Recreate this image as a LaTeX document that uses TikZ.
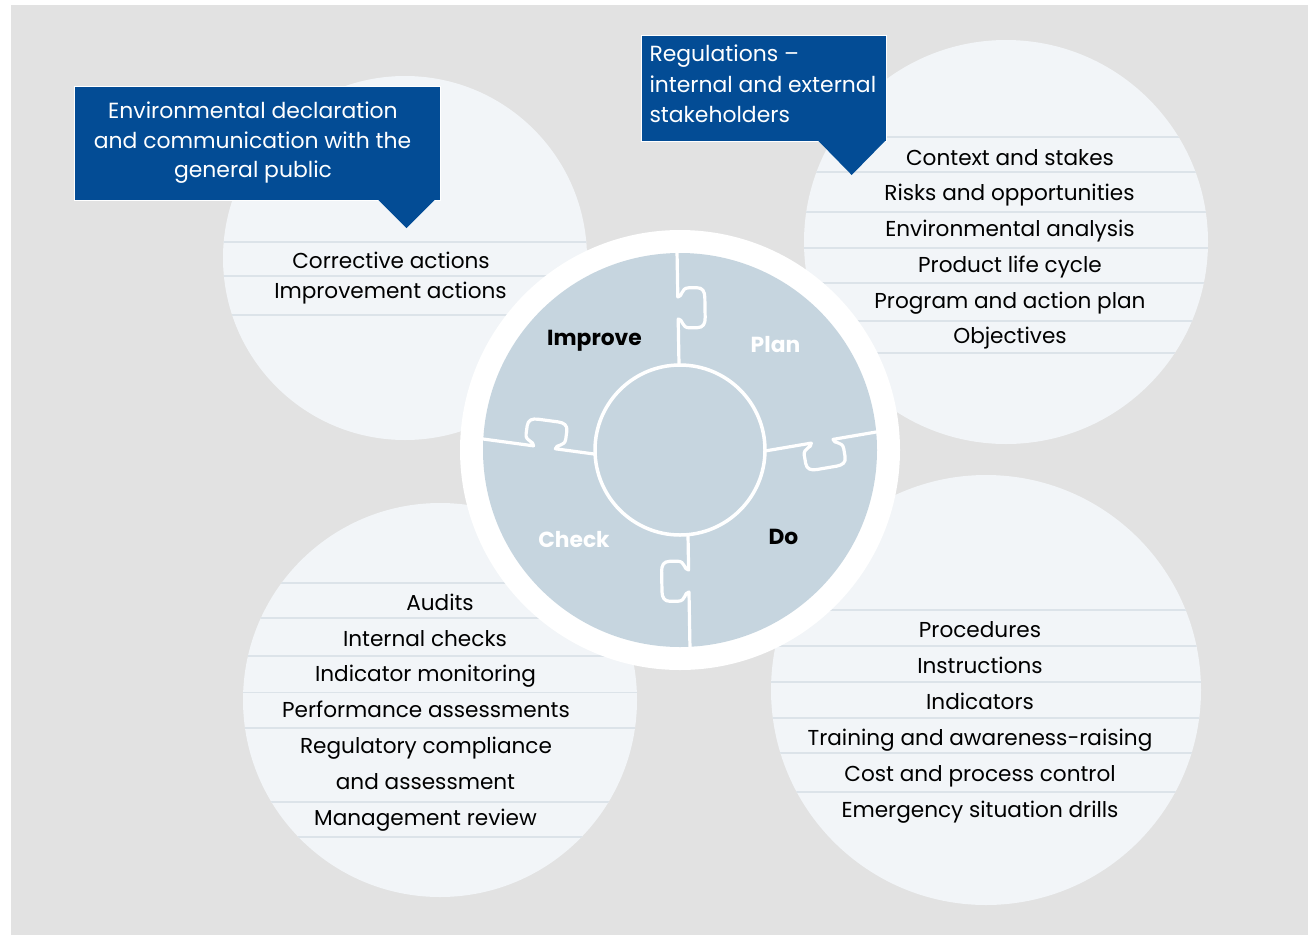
\documentclass[tikz,border=0pt]{standalone}
\usepackage{fontspec}
\setmainfont{Poppins}
\definecolor{bg}{HTML}{E2E2E2}
\definecolor{circ}{HTML}{F2F5F8}
\definecolor{rulec}{HTML}{DCE3E9}
\definecolor{puz}{HTML}{C6D5DF}
\definecolor{navy}{HTML}{034C95}
\newcommand\puzknob[2]{(-6,0) -- ({#1-11},0) .. controls ({#1-11},-5) and ({#1-20},-3) .. ({#1-20},-11) -- ({#1-20},-19) .. controls ({#1-20},-25) and ({#1-16},-27) .. ({#1-10},-27) -- ({#1+10},-27) .. controls ({#1+16},-27) and ({#1+20},-25) .. ({#1+20},-19) -- ({#1+20},-11) .. controls ({#1+20},-3) and ({#1+11},-5) .. ({#1+11},0) -- (#2,0)}
\begin{document}
\begin{tikzpicture}[x=1pt,y=1pt,
  item/.style={anchor=base, inner sep=0, text=black, font=\fontsize{21.6}{25}\selectfont},
  boxtext/.style={anchor=base, inner sep=0, text=white, font=\fontsize{21.9}{25}\selectfont},
  lbl/.style={anchor=base, inner sep=0, font=\bfseries\fontsize{21.8}{25}\selectfont},
  bluebox/.style={rectangle, fill=navy, draw=white, line width=1, inner sep=0},
  bubble/.style={circle, fill=circ, inner sep=0},
  rowline/.style={draw=rulec, line width=1.4},
  seam/.style={draw=white, line width=3.2, line join=round, line cap=round}]
\useasboundingbox (0,0) rectangle (1315,-935);
\fill[white] (0,0) rectangle (1315,-935);
\fill[bg] (11,-5) rectangle (1308,-935);
% bubbles
\node[bubble, minimum size=364] (tl) at (405,-258) {};
\node[bubble, minimum size=404] (tr) at (1006,-242) {};
\node[bubble, minimum size=394] (bl) at (440,-700) {};
\node[bubble, minimum size=430] (br) at (986,-690) {};
% row rules
\begin{scope}
\clip (405,-258) circle (182);
\foreach \y in {242,276,315} \draw[rowline] (200,-\y) -- (600,-\y);
\end{scope}
\begin{scope}
\clip (1006,-242) circle (202);
\foreach \y in {137,172,212,248,283,321,353} \draw[rowline] (790,-\y) -- (1220,-\y);
\end{scope}
\begin{scope}
\clip (440,-700) circle (197);
\foreach \y in {583,618,656,692.5,728,802,837} \draw[rowline] (230,-\y) -- (650,-\y);
\end{scope}
\begin{scope}
\clip (986,-690) circle (215);
\foreach \y in {610,646,682,718,753,792} \draw[rowline] (760,-\y) -- (1210,-\y);
\end{scope}
% puzzle
\node[circle, fill=white, minimum size=440, inner sep=0] (ring) at (680,-450) {};
\node[circle, fill=puz, minimum size=394, inner sep=0] (puzzle) at (680,-450) {};
\draw[seam] [shift={(679,-365)}, rotate=91] \puzknob{57}{118};
\draw[seam] [shift={(765,-451)}, rotate=9.7] \puzknob{58}{118};
\draw[seam] [shift={(688,-535)}, rotate=-89] \puzknob{46}{118};
\draw[seam] [shift={(594,-454)}, rotate=172.3] \puzknob{50}{118};
\node[circle, draw=white, line width=3.5, fill=puz, minimum size=170, inner sep=0] (hub) at (680,-450) {};
\node[lbl, text=black] (improve) at (594.5,-345) {Improve};
\node[lbl, text=white] (plan) at (775.5,-352.7) {Plan};
\node[lbl, text=white] (check) at (574,-547.7) {Check};
\node[lbl, text=black] (do) at (783.5,-544.3) {Do};
% items top-left
\node[item] (i1) at (391,-268.3) {Corrective actions};
\node[item] (i2) at (390.5,-298.8) {Improvement actions};
% items top-right
\node[item] (p1) at (1010,-165) {Context and stakes};
\node[item] (p2) at (1009.5,-200.5) {Risks and opportunities};
\node[item] (p3) at (1010,-236.7) {Environmental analysis};
\node[item] (p4) at (1010,-272.7) {Product life cycle};
\node[item] (p5) at (1010,-308.3) {Program and action plan};
\node[item] (p6) at (1010,-343.3) {Objectives};
% items bottom-left
\node[item] (c1) at (440,-610) {Audits};
\node[item] (c2) at (425,-646) {Internal checks};
\node[item] (c3) at (425.5,-681.7) {Indicator monitoring};
\node[item] (c4) at (426,-717.7) {Performance assessments};
\node[item] (c5) at (426,-753.3) {Regulatory compliance};
\node[item] (c6) at (425.5,-789.3) {and assessment};
\node[item] (c7) at (425.5,-825) {Management review};
% items bottom-right
\node[item] (d1) at (980,-637.7) {Procedures};
\node[item] (d2) at (980,-673.3) {Instructions};
\node[item] (d3) at (980,-709.3) {Indicators};
\node[item] (d4) at (980,-745) {Training and awareness-raising};
\node[item] (d5) at (980,-781) {Cost and process control};
\node[item] (d6) at (980,-817.7) {Emergency situation drills};
% blue box 1
\node[bluebox, minimum width=366, minimum height=114] (envbox) at (257,-143) {};
\fill[navy] (378,-199.5) -- (435,-199.5) -- (406.5,-228) -- cycle;
\node[boxtext] (e1) at (253,-118.3) {Environmental declaration};
\node[boxtext] (e2) at (252.5,-148.3) {and communication with the};
\node[boxtext] (e3) at (253,-177) {general public};
% blue box 2
\node[bluebox, minimum width=245, minimum height=106] (regbox) at (763.5,-88) {};
\fill[navy] (818,-140.5) -- (885.5,-140.5) -- (851.7,-175) -- cycle;
\node[boxtext, anchor=base west] (r1) at (649.3,-61.7) {Regulations –};
\node[boxtext, anchor=base west] (r2) at (649.3,-92.7) {internal and external};
\node[boxtext, anchor=base west] (r3) at (649.3,-122.7) {stakeholders};
\end{tikzpicture}
\end{document}
